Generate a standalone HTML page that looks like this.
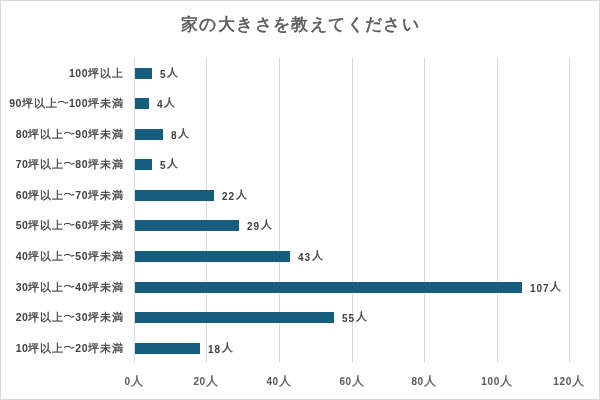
<!DOCTYPE html>
<html lang="ja"><head><meta charset="utf-8"><style>
html,body{margin:0;padding:0;background:#fff}
body{will-change:transform;width:600px;height:400px;position:relative;overflow:hidden;font-family:"Liberation Sans",sans-serif}
.frame{position:absolute;left:0;top:0;width:598px;height:398px;border:1px solid #d9d9d9}
.title{position:absolute;left:0;width:600px;top:13px;text-align:center;font-size:17px;letter-spacing:1.4px;text-indent:1.4px;color:#595959;line-height:24px;white-space:nowrap;-webkit-text-stroke:0.55px #595959}
.g{position:absolute;top:58px;height:305px;width:1px;background:#d9d9d9}
.bar{position:absolute;left:135px;height:11px;background:#175d7d}
.cl{position:absolute;right:476px;text-align:right;white-space:nowrap;color:#404040;line-height:14px}
.dl{position:absolute;white-space:nowrap;color:#404040;line-height:14px}
.al{position:absolute;top:373px;width:60px;text-align:center;white-space:nowrap;color:#595959;line-height:14px}
.d{font-size:10.5px;font-weight:bold;letter-spacing:0.2px;line-height:0}
.j{font-size:11px;letter-spacing:0.8px;-webkit-text-stroke:0.3px currentColor;line-height:0}
.cl .d{font-size:10.5px;letter-spacing:0.5px;vertical-align:0}
.cl .j{letter-spacing:1px}
.dl .d{vertical-align:-1px;letter-spacing:0.9px;font-size:10px}
.dl .j,.al .j{font-size:11.5px}
.dl .j{vertical-align:1.5px;font-size:10.5px;margin-left:1px}
.al .d{font-size:10px;letter-spacing:0.6px;font-weight:bold}
.al .j{vertical-align:0}
.t{display:inline-block;width:10.5px;height:6px;margin:0 0.5px 0 0;vertical-align:2px}
</style></head><body>
<div class="frame"></div>
<div class="title">家の大きさを教えてください</div>

<div class="g" style="left:134px"></div>
<div class="g" style="left:206px"></div>
<div class="g" style="left:279px"></div>
<div class="g" style="left:352px"></div>
<div class="g" style="left:424px"></div>
<div class="g" style="left:497px"></div>
<div class="g" style="left:569px"></div>
<div class="bar" style="top:68px;width:17px"></div>
<div class="cl" style="top:65px"><span class="d">100</span><span class="j">坪以上</span></div>
<div class="dl" style="top:65px;left:160px"><span class="d">5</span><span class="j">人</span></div>
<div class="bar" style="top:98px;width:14px"></div>
<div class="cl" style="top:95px"><span class="d">90</span><span class="j">坪以上</span><svg class="t" viewBox="0 0 10.5 6"><path d="M0.3,3.9 Q0.9,2.6 2,2.5 L4.8,2.5 Q5.7,2.6 6.4,3.5 Q7.2,4.4 8,3.9 L10.3,3.4" fill="none" stroke="currentColor" stroke-width="1.1"/></svg><span class="d">100</span><span class="j">坪未満</span></div>
<div class="dl" style="top:95px;left:157px"><span class="d">4</span><span class="j">人</span></div>
<div class="bar" style="top:129px;width:28px"></div>
<div class="cl" style="top:126px"><span class="d">80</span><span class="j">坪以上</span><svg class="t" viewBox="0 0 10.5 6"><path d="M0.3,3.9 Q0.9,2.6 2,2.5 L4.8,2.5 Q5.7,2.6 6.4,3.5 Q7.2,4.4 8,3.9 L10.3,3.4" fill="none" stroke="currentColor" stroke-width="1.1"/></svg><span class="d">90</span><span class="j">坪未満</span></div>
<div class="dl" style="top:126px;left:171px"><span class="d">8</span><span class="j">人</span></div>
<div class="bar" style="top:159px;width:17px"></div>
<div class="cl" style="top:156px"><span class="d">70</span><span class="j">坪以上</span><svg class="t" viewBox="0 0 10.5 6"><path d="M0.3,3.9 Q0.9,2.6 2,2.5 L4.8,2.5 Q5.7,2.6 6.4,3.5 Q7.2,4.4 8,3.9 L10.3,3.4" fill="none" stroke="currentColor" stroke-width="1.1"/></svg><span class="d">80</span><span class="j">坪未満</span></div>
<div class="dl" style="top:156px;left:160px"><span class="d">5</span><span class="j">人</span></div>
<div class="bar" style="top:190px;width:79px"></div>
<div class="cl" style="top:187px"><span class="d">60</span><span class="j">坪以上</span><svg class="t" viewBox="0 0 10.5 6"><path d="M0.3,3.9 Q0.9,2.6 2,2.5 L4.8,2.5 Q5.7,2.6 6.4,3.5 Q7.2,4.4 8,3.9 L10.3,3.4" fill="none" stroke="currentColor" stroke-width="1.1"/></svg><span class="d">70</span><span class="j">坪未満</span></div>
<div class="dl" style="top:187px;left:222px"><span class="d">22</span><span class="j">人</span></div>
<div class="bar" style="top:220px;width:104px"></div>
<div class="cl" style="top:217px"><span class="d">50</span><span class="j">坪以上</span><svg class="t" viewBox="0 0 10.5 6"><path d="M0.3,3.9 Q0.9,2.6 2,2.5 L4.8,2.5 Q5.7,2.6 6.4,3.5 Q7.2,4.4 8,3.9 L10.3,3.4" fill="none" stroke="currentColor" stroke-width="1.1"/></svg><span class="d">60</span><span class="j">坪未満</span></div>
<div class="dl" style="top:217px;left:247px"><span class="d">29</span><span class="j">人</span></div>
<div class="bar" style="top:251px;width:155px"></div>
<div class="cl" style="top:248px"><span class="d">40</span><span class="j">坪以上</span><svg class="t" viewBox="0 0 10.5 6"><path d="M0.3,3.9 Q0.9,2.6 2,2.5 L4.8,2.5 Q5.7,2.6 6.4,3.5 Q7.2,4.4 8,3.9 L10.3,3.4" fill="none" stroke="currentColor" stroke-width="1.1"/></svg><span class="d">50</span><span class="j">坪未満</span></div>
<div class="dl" style="top:248px;left:298px"><span class="d">43</span><span class="j">人</span></div>
<div class="bar" style="top:282px;width:387px"></div>
<div class="cl" style="top:279px"><span class="d">30</span><span class="j">坪以上</span><svg class="t" viewBox="0 0 10.5 6"><path d="M0.3,3.9 Q0.9,2.6 2,2.5 L4.8,2.5 Q5.7,2.6 6.4,3.5 Q7.2,4.4 8,3.9 L10.3,3.4" fill="none" stroke="currentColor" stroke-width="1.1"/></svg><span class="d">40</span><span class="j">坪未満</span></div>
<div class="dl" style="top:279px;left:530px"><span class="d">107</span><span class="j">人</span></div>
<div class="bar" style="top:312px;width:199px"></div>
<div class="cl" style="top:309px"><span class="d">20</span><span class="j">坪以上</span><svg class="t" viewBox="0 0 10.5 6"><path d="M0.3,3.9 Q0.9,2.6 2,2.5 L4.8,2.5 Q5.7,2.6 6.4,3.5 Q7.2,4.4 8,3.9 L10.3,3.4" fill="none" stroke="currentColor" stroke-width="1.1"/></svg><span class="d">30</span><span class="j">坪未満</span></div>
<div class="dl" style="top:309px;left:342px"><span class="d">55</span><span class="j">人</span></div>
<div class="bar" style="top:343px;width:65px"></div>
<div class="cl" style="top:340px"><span class="d">10</span><span class="j">坪以上</span><svg class="t" viewBox="0 0 10.5 6"><path d="M0.3,3.9 Q0.9,2.6 2,2.5 L4.8,2.5 Q5.7,2.6 6.4,3.5 Q7.2,4.4 8,3.9 L10.3,3.4" fill="none" stroke="currentColor" stroke-width="1.1"/></svg><span class="d">20</span><span class="j">坪未満</span></div>
<div class="dl" style="top:340px;left:208px"><span class="d">18</span><span class="j">人</span></div>
<div class="al" style="left:104px"><span class="d">0</span><span class="j">人</span></div>
<div class="al" style="left:176px"><span class="d">20</span><span class="j">人</span></div>
<div class="al" style="left:249px"><span class="d">40</span><span class="j">人</span></div>
<div class="al" style="left:322px"><span class="d">60</span><span class="j">人</span></div>
<div class="al" style="left:394px"><span class="d">80</span><span class="j">人</span></div>
<div class="al" style="left:467px"><span class="d">100</span><span class="j">人</span></div>
<div class="al" style="left:539px"><span class="d">120</span><span class="j">人</span></div>
</body></html>
